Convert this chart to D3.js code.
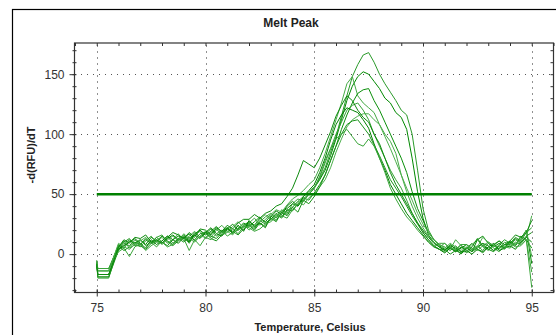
<!DOCTYPE html>
<html><head><meta charset="utf-8">
<script src="https://cdn.jsdelivr.net/npm/d3@7"></script>
<style>body{margin:0;background:#fff;}svg{display:block;font-family:"Liberation Sans",Arial,sans-serif;}</style>
</head><body>
<script>
const temps = [75,75.05,75.55,
  76,76.25,76.5,76.75, 77,77.25,77.5,77.75, 78,78.25,78.5,78.75, 79,79.25,79.5,79.75,
  80,80.25,80.5,80.75, 81,81.25,81.5,81.75, 82,82.25,82.5,82.75, 83,83.25,83.5,83.75,
  84,84.25,84.5,84.75, 85,85.25,85.5,85.75, 86,86.25,86.5,86.75, 87,87.25,87.5,87.75,
  88,88.25,88.5,88.75, 89,89.25,89.5,89.75, 90,90.25,90.5,90.75, 91,91.25,91.5,91.75,
  92,92.25,92.5,92.75, 93,93.25,93.5,93.75, 94,94.25,94.5,94.75, 95];
const well1 = [-7,-17,-17, 4,9,7,12, 8,13,10,6, 11,15,9,13, 16,12,18,14, 17,21,15,19, 22,18,24,20, 26,22,28,25, 29,33,30,36, 39,44,48,52, 56,63,72,85, 98,115,132,148, 158,166,168,160, 150,142,135,128, 120,116,100,70, 38,20,12,8, 6,3,7,2, 5,9,4,1, 6,3,8,12, 9,14,11,18, 22];
const well2 = [-9,-14,-14, 8,5,11,9, 12,8,14,11, 9,13,16,12, 15,11,17,20, 16,19,23,18, 21,25,20,24, 27,24,30,27, 32,28,35,38, 42,40,46,50, 55,62,70,82, 96,112,128,140, 148,152,150,144, 138,130,126,118, 114,104,80,52, 30,16,10,6, 3,8,4,0, 5,2,12,15, 9,6,9,5, 10,7,13,20, -8];
const well3 = [-6,-19,-19, 3,8,12,9, 6,11,15,10, 14,9,12,17, 11,15,19,14, 18,14,20,24, 19,23,27,22, 26,30,24,29, 33,37,35,41, 46,49,53,58, 62,72,84,98, 112,126,142,148, 132,126,122,118, 108,100,94,84, 66,52,40,30, 22,15,10,6, 9,4,12,7, 4,8,12,6, 3,7,4,10, 8,12,9,14, 32];
const well4 = [-8,-12,-12, 7,3,6,10, 8,12,9,14, 10,7,12,15, 13,17,11,15, 19,15,13,18, 22,17,21,26, 23,27,31,26, 29,34,31,37, 36,42,47,45, 51,58,66,78, 90,104,116,126, 134,137,138,128, 120,110,100,90, 80,68,52,38, 28,18,12,7, 4,6,2,5, 8,3,6,9, 4,2,7,5, 11,8,15,12, 5];
const well5 = [-5,-20,-20, 6,11,5,8, 12,7,10,14, 16,10,7,11, 14,9,16,19, 13,17,21,16, 18,21,17,23, 25,21,27,31, 34,30,37,34, 42,46,44,50, 55,64,76,88, 100,110,120,124, 126,120,112,100, 90,80,70,62, 55,45,34,26, 18,12,7,4, 2,6,3,8, 1,4,7,3, 9,5,2,7, 6,10,8,12, -28];
const well6 = [-10,-17,-17, 4,7,10,13, 9,5,12,8, 11,15,12,9, 14,10,16,13, 18,22,17,15, 21,18,24,19, 28,23,26,22, 31,36,33,40, 44,40,48,53, 58,68,80,95, 108,116,122,120, 118,112,105,92, 80,70,58,50, 42,34,28,22, 16,10,6,4, 1,5,2,6, 3,0,4,2, 6,9,3,5, 7,4,10,14, 10];
const well7 = [-7,-14,-14, 9,6,4,8, 11,14,9,12, 8,12,15,11, 17,13,10,15, 14,18,21,16, 19,16,22,25, 20,24,29,33, 28,32,36,33, 39,44,41,47, 50,56,62,72, 85,96,106,112, 115,117,117,112, 108,98,88,77, 66,55,45,34, 25,18,12,8, 5,9,6,3, 8,4,6,14, 10,7,11,6, 5,9,12,20, -2];
const well8 = [-9,-19,-19, 5,10,13,7, 7,4,9,11, 15,11,8,13, 10,14,12,17, 18,13,11,16, 22,19,16,21, 24,20,26,23, 30,27,35,32, 39,35,45,42, 48,56,66,78, 90,100,108,111, 112,106,100,91, 82,72,62,55, 48,40,32,25, 18,12,7,4, 4,0,3,1, 6,2,5,9, 7,3,5,8, 8,13,10,15, 18];
const well9 = [-6,-12,-12, 2,5,-2,6, 9,3,7,10, 10,6,8,12, 13,3,12,7, 14,12,17,20, 15,18,20,23, 22,19,21,25, 27,31,32,30, 37,42,44,50, 55,65,78,88, 96,100,104,98, 92,90,96,90, 80,68,55,46, 38,31,26,20, 15,10,6,9, 9,5,4,8, 8,5,3,7, 10,7,6,4, 9,6,7,12, -15];
const well10 = [-8,-17,-17, 6,12,9,14, 13,16,10,12, 9,14,18,16, 13,18,14,21, 20,16,22,19, 24,21,26,29, 29,33,30,34, 36,40,42,48, 55,66,78,75, 72,80,91,102, 115,124,132,128, 120,114,110,100, 92,80,68,58, 50,42,34,26, 20,14,9,6, 3,7,5,2, 2,6,13,7, 4,8,11,8, 11,16,14,18, 28];
const wells = [well1,well2,well3,well4,well5,well6,well7,well8,well9,well10];
const xTicks = [75,80,85,90,95];
const yTicks = [0,50,100,150];
const threshold = 50;
const title = "Melt Peak";
const xTitle = "Temperature, Celsius";
const yTitle = "-d(RFU)/dT";

const W = 556, H = 335;
const svg = d3.select("body").append("svg").attr("width", W).attr("height", H);
const x = d3.scaleLinear().domain([74, 96]).range([75, 553.5]);
const y = d3.scaleLinear().domain([-32, 176]).range([292.5, 43]);

// outer frame
svg.append("rect").attr("x", 12.5).attr("y", 9.5).attr("width", 600).attr("height", 400)
  .attr("fill", "none").attr("stroke", "#000").attr("stroke-width", 1.2);

// grid
const g = svg.append("g");
g.selectAll("line.vg").data(xTicks).join("line")
  .attr("x1", d => Math.round(x(d)) + 0.5).attr("x2", d => Math.round(x(d)) + 0.5)
  .attr("y1", y.range()[0]).attr("y2", y.range()[1])
  .attr("stroke", "#222").attr("stroke-dasharray", "1,5");
g.selectAll("line.hg").data(yTicks).join("line")
  .attr("y1", d => Math.round(y(d)) + 0.5).attr("y2", d => Math.round(y(d)) + 0.5)
  .attr("x1", x.range()[0]).attr("x2", x.range()[1])
  .attr("stroke", "#555").attr("stroke-dasharray", "1,5");

// curves
const colors = ["#2a9a2a","#008800","#45aa45","#0a8f0a","#35a335","#008000","#4caf4c","#1a931a","#3aa53a","#0d8a0d"];
const line = d3.line().x((d, i) => x(temps[i])).y(d => y(d));
svg.append("g").selectAll("path").data(wells).join("path")
  .attr("d", line).attr("fill", "none")
  .attr("stroke", (d, i) => colors[i]).attr("stroke-width", 1);

// threshold
svg.append("line").attr("x1", x(75)).attr("x2", x(95))
  .attr("y1", y(threshold)).attr("y2", y(threshold))
  .attr("stroke", "#008000").attr("stroke-width", 2.5);

// axes
const axColor = "#333";
const minorX = d3.range(74, 97, 1);
const minorY = d3.range(-30, 171, 10);
const ax = svg.append("g");
ax.append("rect").attr("x", 74.5).attr("y", 43).attr("width", 479).attr("height", 249.5)
  .attr("fill", "none").attr("stroke", axColor).attr("stroke-width", 1.2);
ax.append("g").attr("transform", "translate(0,292.5)")
  .call(d3.axisBottom(x).tickValues(minorX).tickSize(-3).tickFormat(""))
  .call(s => { s.select(".domain").remove(); s.selectAll("line").attr("stroke", axColor); });
ax.append("g").attr("transform", "translate(0,292.5)")
  .call(d3.axisBottom(x).tickValues(xTicks).tickSize(4).tickPadding(7).tickFormat(d3.format("d")))
  .call(s => { s.select(".domain").remove(); s.selectAll("line").attr("stroke", axColor).attr("y1", -3);
    s.selectAll("text").attr("font-size", 12).attr("fill", "#333").attr("font-family", "Liberation Sans, Arial"); });
ax.append("g").attr("transform", "translate(0,43)")
  .call(d3.axisTop(x).tickValues(minorX).tickSize(-3).tickFormat(""))
  .call(s => { s.select(".domain").remove(); s.selectAll("line").attr("stroke", axColor); });
ax.append("g").attr("transform", "translate(74.5,0)")
  .call(d3.axisLeft(y).tickValues(minorY).tickSize(2).tickFormat(""))
  .call(s => { s.select(".domain").remove(); s.selectAll("line").attr("stroke", axColor).attr("x2", -2).attr("x1", 2); });
ax.append("g").attr("transform", "translate(74.5,0)")
  .call(d3.axisLeft(y).tickValues(yTicks).tickSize(5).tickPadding(5).tickFormat(d3.format("d")))
  .call(s => { s.select(".domain").remove(); s.selectAll("line").attr("stroke", axColor);
    s.selectAll("text").attr("font-size", 12).attr("fill", "#333").attr("font-family", "Liberation Sans, Arial"); });
ax.append("g").attr("transform", "translate(553.5,0)")
  .call(d3.axisRight(y).tickValues(minorY).tickSize(-3).tickFormat(""))
  .call(s => { s.select(".domain").remove(); s.selectAll("line").attr("stroke", axColor); });

// titles
svg.append("text").attr("x", 291).attr("y", 27).attr("text-anchor", "middle")
  .attr("font-size", 12).attr("font-weight", "bold").attr("fill", "#222").text(title);
svg.append("text").attr("x", 310).attr("y", 331).attr("text-anchor", "middle")
  .attr("font-size", 11).attr("font-weight", "bold").attr("fill", "#222").text(xTitle);
svg.append("text").attr("transform", "translate(35,155) rotate(-90)").attr("text-anchor", "middle")
  .attr("font-size", 11).attr("font-weight", "bold").attr("fill", "#222").text(yTitle);
</script>
</body></html>
